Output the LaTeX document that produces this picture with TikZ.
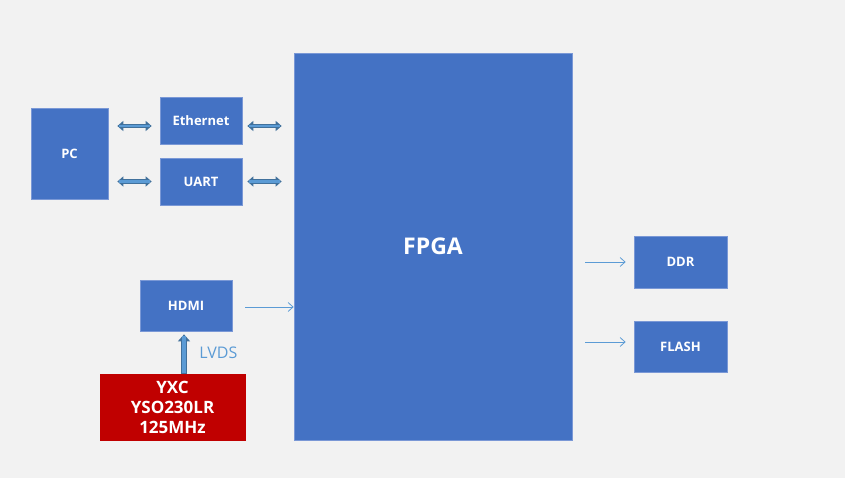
\documentclass[tikz,border=0pt]{standalone}
\usepackage{fontspec}
\setmainfont{Open Sans}
\usetikzlibrary{arrows.meta}
\definecolor{bgray}{HTML}{F2F2F2}
\definecolor{boxblue}{HTML}{4472C4}
\definecolor{edgeblue}{HTML}{7A98D6}
\definecolor{arrblue}{HTML}{5B9BD5}
\definecolor{arrdark}{HTML}{41719C}
\definecolor{xtalred}{HTML}{C00000}
\tikzset{
  block/.style={draw=edgeblue, line width=0.7pt, fill=boxblue, text=white,
    font=\fontsize{13}{15}\selectfont\bfseries, inner sep=0pt},
  dblarrow/.style 2 args={draw=arrdark, line width=4.6pt,
    {Triangle[length=6pt,width=10pt]}-{Triangle[length=6pt,width=10pt]},
    shorten <=#1, shorten >=#2,
    postaction={draw=arrblue, line width=2.8pt, shorten <=#1+2pt, shorten >=#2+2pt, -}},
  thinarrow/.style={draw=arrblue, line width=0.8pt, -{Straight Barb[length=5pt,width=9pt]}},
}
\begin{document}
\begin{tikzpicture}[x=1pt,y=-1pt]
  \fill[bgray] (0,0) rectangle (845,478);
  \useasboundingbox (0,0) rectangle (845,478);
  % blocks
  \node[block, minimum width=77pt, minimum height=91pt] (pc) at (69.5,153.5) {PC};
  \node[block, minimum width=82pt, minimum height=47pt] (eth) at (201,120.5) {Ethernet};
  \node[block, minimum width=82pt, minimum height=47pt] (uart) at (201,181.5) {UART};
  \node[block, minimum width=278pt, minimum height=387pt, font=\fontsize{23}{26}\selectfont\bfseries] (fpga) at (433,246.5) {FPGA};
  \node[block, minimum width=92pt, minimum height=51pt] (hdmi) at (186,305.5) {HDMI};
  \node[block, draw=xtalred, fill=xtalred, minimum width=145pt, minimum height=66pt,
    align=center, font=\fontsize{17}{20}\selectfont\bfseries] (xtal) at (172.5,407) {YXC\\YSO230LR\\125MHz};
  \node[block, minimum width=93pt, minimum height=52pt] (ddr) at (680.5,262) {DDR};
  \node[block, minimum width=93pt, minimum height=51pt] (flash) at (680.5,346.5) {FLASH};
  % links
  \draw[dblarrow={9pt}{8pt}] ([yshift=-5.5pt]eth.west -| pc.east) -- ([yshift=-5.5pt]eth.west);
  \draw[dblarrow={5pt}{12pt}] ([yshift=-5.5pt]eth.east) -- ([yshift=-5.5pt]eth.east -| fpga.west);
  \draw[dblarrow={9pt}{8pt}] (uart.west -| pc.east) -- (uart.west);
  \draw[dblarrow={5pt}{12pt}] (uart.east) -- (uart.east -| fpga.west);
  \draw[thinarrow, shorten <=13pt] ([yshift=-1.5pt]hdmi.east) -- ([yshift=-1.5pt]hdmi.east -| fpga.west);
  \draw[thinarrow, shorten <=13pt, shorten >=8pt] (ddr.west -| fpga.east) -- (ddr.west);
  \draw[thinarrow, shorten <=13pt, shorten >=8pt] ([yshift=4.5pt]flash.west -| fpga.east) -- ([yshift=4.5pt]flash.west);
  \draw[draw=arrdark, line width=6pt, -{Triangle[length=7pt,width=12pt]}, shorten >=3pt,
    postaction={draw=arrblue, line width=4pt, shorten <=0.8pt, shorten >=5pt, -}]
    ([xshift=-2pt]hdmi.south |- xtal.north) -- ([xshift=-2pt]hdmi.south)
    node[midway, right=9pt, text=arrblue, font=\fontsize{16}{18}\selectfont] (lvds) {LVDS};
\end{tikzpicture}
\end{document}
